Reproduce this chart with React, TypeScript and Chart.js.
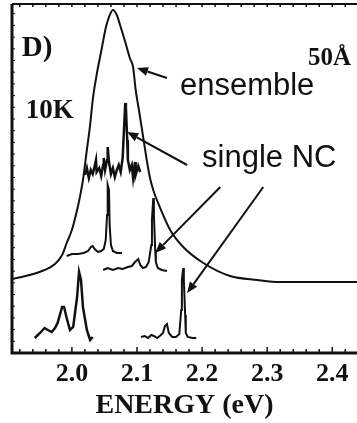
import React, { useEffect, useRef } from "react";
import { Chart, registerables } from "chart.js";

Chart.register(...registerables);

// ---- data (energy in eV, intensity in arbitrary units, offset traces) ----
const ensembleE = [1.908, 1.935, 1.958, 1.974, 1.985, 1.992, 2.0, 2.008, 2.012, 2.017, 2.023, 2.028, 2.032, 2.038, 2.046, 2.052, 2.057, 2.063, 2.069, 2.074, 2.082, 2.089, 2.094, 2.098, 2.103, 2.109, 2.115, 2.12, 2.125, 2.135, 2.151, 2.171, 2.202, 2.243, 2.285, 2.32, 2.438];
const ensembleI = [74, 78, 83, 89, 98, 110, 123, 143, 155, 173, 203, 228, 253, 278, 305, 325, 336, 343, 338, 328, 311, 295, 286, 263, 243, 218, 193, 175, 163, 146, 123, 106, 90, 77, 73, 71, 71];

const nc1E = [2.02, 2.023, 2.026, 2.029, 2.032, 2.035, 2.037, 2.038, 2.042, 2.045, 2.048, 2.049, 2.051, 2.054, 2.055, 2.057, 2.06, 2.063, 2.066, 2.069, 2.072, 2.075, 2.078, 2.08, 2.082, 2.083, 2.085, 2.086, 2.089, 2.092, 2.094, 2.097, 2.098, 2.102, 2.105];
const nc1I = [178, 185, 175, 183, 179, 187, 193, 181, 185, 177, 188, 195, 183, 193, 206, 191, 179, 185, 176, 183, 188, 181, 195, 223, 250, 245, 213, 193, 183, 188, 175, 191, 178, 187, 181];

const nc2E = [1.992, 2.0, 2.009, 2.018, 2.025, 2.029, 2.032, 2.035, 2.04, 2.045, 2.049, 2.052, 2.054, 2.055, 2.057, 2.058, 2.06, 2.063, 2.069, 2.077];
const nc2I = [97, 99, 99, 100, 102, 106, 107, 104, 101, 102, 104, 113, 138, 168, 163, 128, 108, 102, 100, 100];

const nc3E = [2.048, 2.055, 2.063, 2.071, 2.078, 2.086, 2.092, 2.097, 2.102, 2.105, 2.109, 2.114, 2.118, 2.122, 2.123, 2.125, 2.126, 2.128, 2.129, 2.132, 2.138, 2.146];
const nc3I = [83, 85, 83, 85, 84, 86, 87, 91, 94, 88, 85, 86, 91, 108, 133, 155, 138, 103, 91, 85, 83, 82];

const nc4E = [1.943, 1.951, 1.958, 1.963, 1.969, 1.974, 1.978, 1.985, 1.988, 1.992, 1.997, 2.002, 2.008, 2.011, 2.014, 2.017, 2.023, 2.028, 2.032];
const nc4I = [15, 20, 25, 23, 21, 25, 30, 46, 46, 35, 23, 26, 56, 81, 73, 46, 23, 13, 16];

const nc5E = [2.106, 2.112, 2.117, 2.122, 2.126, 2.131, 2.135, 2.14, 2.143, 2.146, 2.149, 2.154, 2.16, 2.165, 2.168, 2.169, 2.171, 2.172, 2.174, 2.175, 2.178, 2.185, 2.191];
const nc5I = [16, 17, 15, 18, 17, 15, 17, 20, 27, 29, 20, 16, 16, 19, 43, 73, 85, 73, 38, 20, 16, 15, 15];

const xMin = 1.908;
const xMax = 2.438;
const yMin = 0;
const yMax = 349;
const xTickStep = 0.02;
const xLabelStep = 0.1;
const yTickStep = 11.7;
const xTitle = "ENERGY (eV)";

// arrows: [fromE, fromI, toE, toI]
const arrows = [
  [2.146, 275, 2.1, 285],
  [2.177, 188, 2.085, 221],
  [2.228, 166, 2.128, 100],
  [2.294, 166, 2.177, 60],
];

// text annotations
const labels = [
  { text: "D)", e: 1.923, i: 297, font: "bold 29px 'Liberation Serif'", align: "left" },
  { text: "10K", e: 1.929, i: 235, font: "bold 27px 'Liberation Serif'", align: "left" },
  { text: "50Å", e: 2.429, i: 288, font: "bold 25px 'Liberation Serif'", align: "right" },
  { text: "ensemble", e: 2.166, i: 258, font: "31px 'Liberation Sans'", align: "left" },
  { text: "single NC", e: 2.2, i: 186, font: "31px 'Liberation Sans'", align: "left" },
];

const INK = "#111";

const zip = (xs: number[], ys: number[]) => xs.map((x, k) => ({ x, y: ys[k] }));

const decorPlugin = {
  id: "decor",
  afterDatasetsDraw(chart: any) {
    const { ctx, chartArea: a, scales } = chart;
    const xs = scales.x;
    const ys = scales.y;
    ctx.save();
    ctx.strokeStyle = INK;
    ctx.fillStyle = INK;
    ctx.lineCap = "butt";
    // frame
    ctx.lineWidth = 3;
    ctx.beginPath();
    ctx.moveTo(a.left, a.top);
    ctx.lineTo(a.left, a.bottom);
    ctx.lineTo(a.right, a.bottom);
    ctx.stroke();
    ctx.lineWidth = 2;
    ctx.beginPath();
    ctx.moveTo(a.left, a.top);
    ctx.lineTo(a.right, a.top);
    ctx.stroke();
    // inner ticks on x
    ctx.lineWidth = 1.5;
    xs.ticks.forEach((t: any) => {
      const px = xs.getPixelForValue(t.value);
      const major = Math.abs(t.value / xLabelStep - Math.round(t.value / xLabelStep)) < 1e-6;
      const len = major ? 6 : 4;
      ctx.beginPath();
      ctx.moveTo(px, a.bottom);
      ctx.lineTo(px, a.bottom - len);
      ctx.moveTo(px, a.top);
      ctx.lineTo(px, a.top + 3);
      ctx.stroke();
    });
    // inner ticks on y
    ctx.lineWidth = 1;
    for (let v = yMin + yTickStep; v < yMax; v += yTickStep) {
      const py = ys.getPixelForValue(v);
      ctx.beginPath();
      ctx.moveTo(a.left, py);
      ctx.lineTo(a.left + 3, py);
      ctx.stroke();
    }
    // arrows
    ctx.lineWidth = 2;
    arrows.forEach(([e0, i0, e1, i1]) => {
      const x0 = xs.getPixelForValue(e0);
      const y0 = ys.getPixelForValue(i0);
      const x1 = xs.getPixelForValue(e1);
      const y1 = ys.getPixelForValue(i1);
      const ang = Math.atan2(y1 - y0, x1 - x0);
      const L = 11;
      const W = 4.5;
      const bx = x1 - L * Math.cos(ang);
      const by = y1 - L * Math.sin(ang);
      ctx.beginPath();
      ctx.moveTo(x0, y0);
      ctx.lineTo(bx, by);
      ctx.stroke();
      ctx.beginPath();
      ctx.moveTo(x1, y1);
      ctx.lineTo(bx + W * Math.sin(ang), by - W * Math.cos(ang));
      ctx.lineTo(bx - W * Math.sin(ang), by + W * Math.cos(ang));
      ctx.closePath();
      ctx.fill();
    });
    // texts
    ctx.textBaseline = "alphabetic";
    labels.forEach((l) => {
      ctx.font = l.font;
      ctx.textAlign = l.align as CanvasTextAlign;
      ctx.fillText(l.text, xs.getPixelForValue(l.e), ys.getPixelForValue(l.i));
    });
    ctx.restore();
  },
};

export default function App() {
  const ref = useRef<HTMLCanvasElement>(null);
  useEffect(() => {
    if (!ref.current) return;
    const line = (xs: number[], ys: number[], w: number, smooth = false) => ({
      data: zip(xs, ys),
      borderColor: INK,
      borderWidth: w,
      pointRadius: 0,
      fill: false,
      tension: smooth ? 0.4 : 0,
      cubicInterpolationMode: smooth ? "monotone" : "default",
    });
    const chart = new Chart(ref.current, {
      type: "line",
      data: {
        datasets: [
          line(ensembleE, ensembleI, 2, true),
          line(nc1E, nc1I, 2.5),
          line(nc2E, nc2I, 2),
          line(nc3E, nc3I, 2),
          line(nc4E, nc4I, 2.5),
          line(nc5E, nc5I, 2),
        ] as any,
      },
      options: {
        animation: false,
        responsive: false,
        devicePixelRatio: 1,
        layout: { padding: { left: 12, top: 4, right: 0, bottom: 0 } },
        plugins: { legend: { display: false }, tooltip: { enabled: false } },
        scales: {
          x: {
            type: "linear",
            min: xMin,
            max: xMax,
            grid: { display: false, drawTicks: false },
            border: { display: false },
            afterBuildTicks: (scale: any) => {
              const t = [];
              for (let v = Math.ceil(xMin / xTickStep) * xTickStep; v <= xMax + 1e-9; v += xTickStep) {
                t.push({ value: Math.round(v * 1000) / 1000 });
              }
              scale.ticks = t;
            },
            afterFit: (scale: any) => {
              scale.height = 70;
            },
            ticks: {
              autoSkip: false,
              maxRotation: 0,
              padding: 6,
              color: INK,
              font: { family: "'Liberation Serif'", size: 26, weight: "bold" },
              callback: (v: any) => {
                const n = Number(v);
                const r = n / xLabelStep;
                return Math.abs(r - Math.round(r)) < 1e-6 ? n.toFixed(1) : "";
              },
            },
            title: {
              display: true,
              text: xTitle,
              color: INK,
              padding: { top: 0, bottom: 0 },
              font: { family: "'Liberation Serif'", size: 28, weight: "bold" },
            },
          },
          y: {
            type: "linear",
            display: false,
            min: yMin,
            max: yMax,
          },
        },
      },
      plugins: [decorPlugin],
    });
    return () => chart.destroy();
  }, []);
  return (
    <div style={{ position: "absolute", left: 0, top: 0, width: 357, height: 423, background: "#fff" }}>
      <canvas ref={ref} width={357} height={423} style={{ display: "block", width: 357, height: 423 }} />
    </div>
  );
}
